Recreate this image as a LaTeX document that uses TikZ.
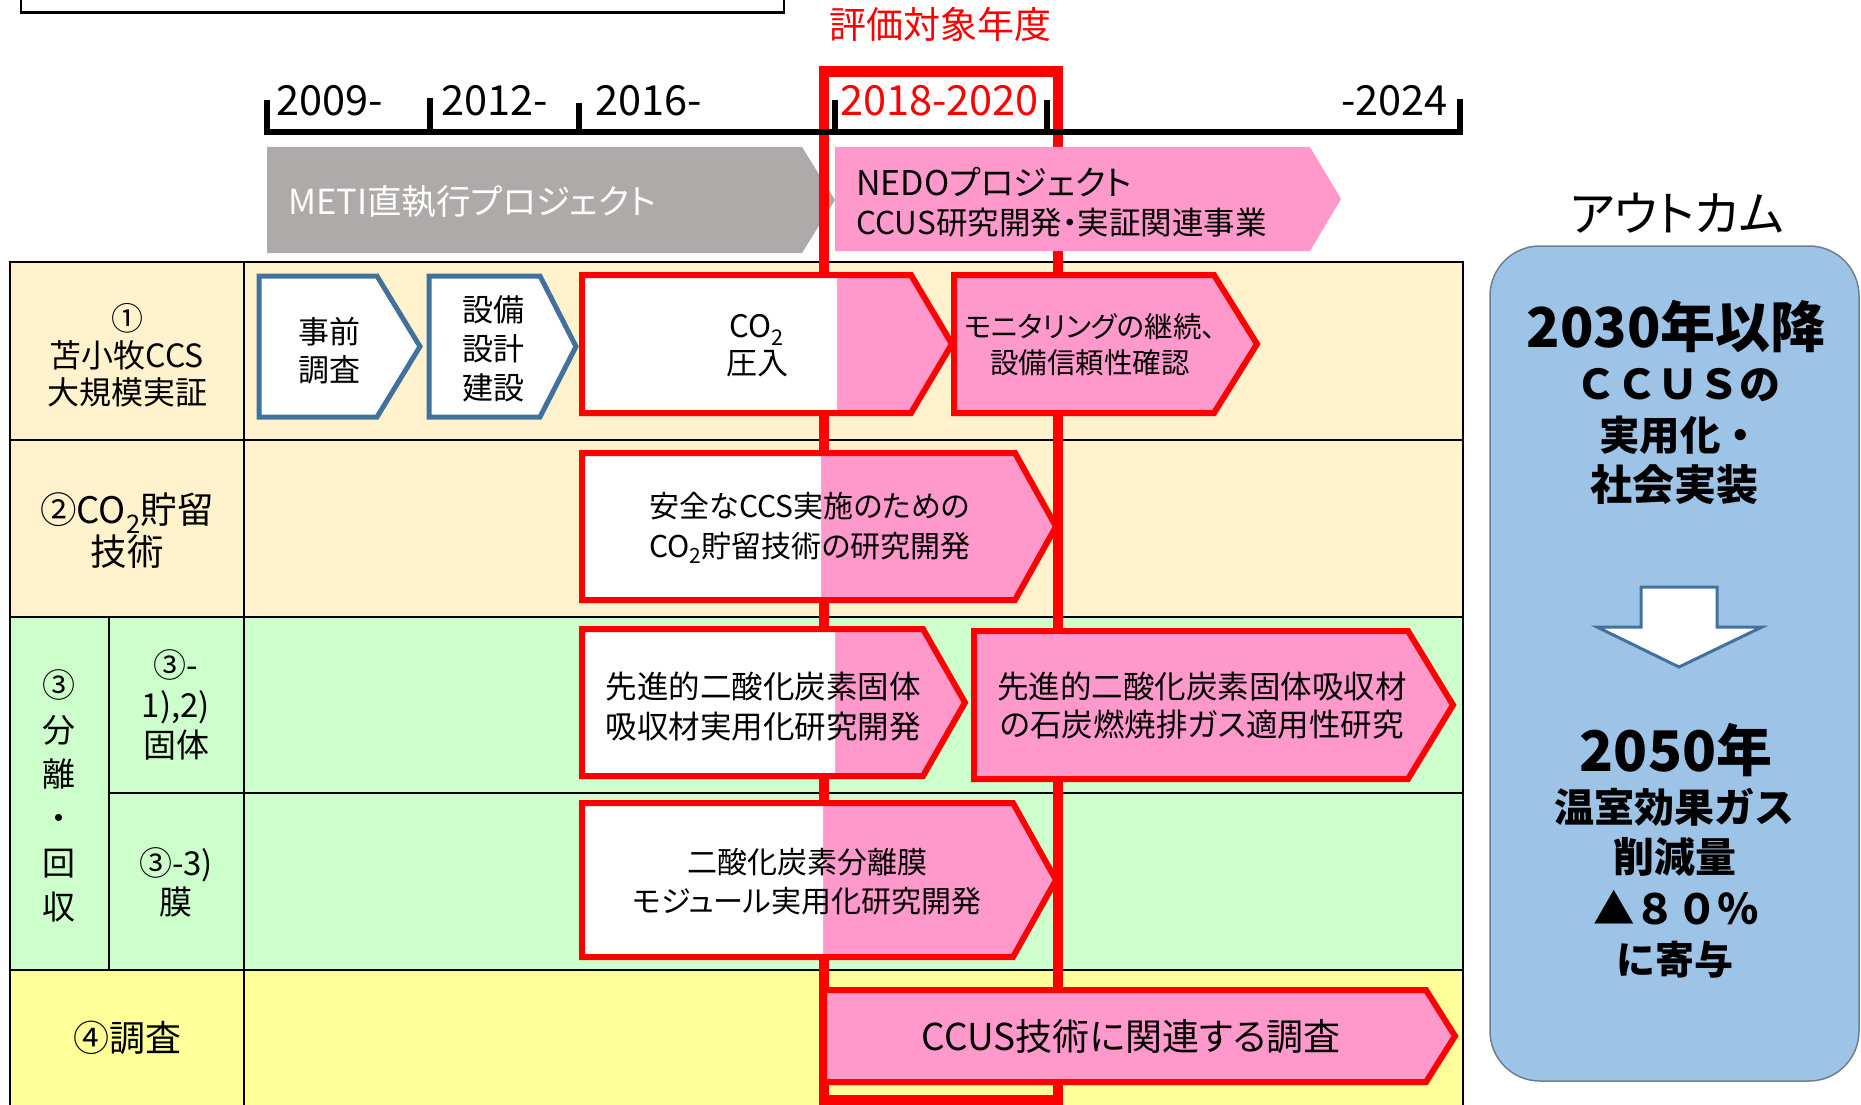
\documentclass[tikz,border=0pt]{standalone}
\usepackage{fontspec}
\setmainfont{Noto Sans CJK JP}[RawFeature=+palt]
\newfontfamily\jpf{Noto Sans CJK JP}
\definecolor{beige}{HTML}{FFF2CC}
\definecolor{greenrow}{HTML}{CCFFCC}
\definecolor{yellowrow}{HTML}{FFFF99}
\definecolor{pinkc}{HTML}{FF99CC}
\definecolor{greyc}{HTML}{AEAAAA}
\definecolor{redc}{HTML}{FF0000}
\definecolor{blueb}{HTML}{41719C}
\definecolor{panel}{HTML}{9DC3E6}
\definecolor{panelb}{HTML}{6F7F8F}
\newcommand\fs[2]{\fontsize{#1}{#2}\selectfont}
% left, shoulder, tip, top, bottom, white-until
\newcommand\chevbox[6]{%
  \fill[pinkc] (#1,#4) -- (#2,#4) -- (#3,{(#4+#5)/2}) -- (#2,#5) -- (#1,#5) -- cycle;
  \begin{scope}
    \clip ({#1-10},{#4-10}) rectangle (#6,{#5+10});
    \fill[white] (#1,#4) -- (#2,#4) -- (#3,{(#4+#5)/2}) -- (#2,#5) -- (#1,#5) -- cycle;
  \end{scope}
  \draw[redc, line width=6, miter limit=20] (#1,#4) -- (#2,#4) -- (#3,{(#4+#5)/2}) -- (#2,#5) -- (#1,#5) -- cycle;}
\newcommand\bluechev[3]{%
  \draw[blueb, line width=5, fill=white, miter limit=20] (#1,276) -- (#2,276) -- (#3,346.5) -- (#2,417) -- (#1,417) -- cycle;}
\begin{document}
\begin{tikzpicture}[x=1pt,y=-1pt,
  txt/.style={inner sep=0pt, align=center, text=black},
  yr/.style={inner sep=0pt, anchor=base west, font=\fs{41.5}{46}},
  tline/.style={line width=6},
  tick/.style={line width=5.5},
  grid/.style={line width=2.5, black}]
\useasboundingbox (0,0) rectangle (1861,1105);
\fill[white] (0,0) rectangle (1861,1105);

% top-left frame (cut off)
\draw[line width=2.5] (21,-10) rectangle (784,12.5);

% table backgrounds
\fill[beige] (10,262) rectangle (1463,617);
\fill[greenrow] (10,617) rectangle (1463,970);
\fill[yellowrow] (10,970) rectangle (1463,1110);
% table lines
\draw[grid] (10,1110) -- (10,262) -- (1463,262) -- (1463,1110);
\draw[grid] (10,440) -- (1463,440);
\draw[grid] (10,617) -- (1463,617);
\draw[grid] (109,793) -- (1463,793);
\draw[grid] (10,970) -- (1463,970);
\draw[grid] (244,262) -- (244,1110);
\draw[grid] (109,617) -- (109,970);

% grey METI arrow
\fill[greyc] (267,147) -- (802,147) -- (835,200) -- (802,253) -- (267,253) -- cycle;
\node[txt, anchor=west, text=white, font=\fs{34.5}{40}] (meti) at (288,202) {METI直執行プロジェクト};

% evaluation frame
\draw[redc, line width=10.5] (824,71.5) rectangle (1058,1100);
\node[txt, text=redc, font=\jpf\fs{37}{42}] (eval) at (940,24) {評価対象年度};

% timeline
\draw[tline, miter limit=20] (267,100) -- (267,132) -- (1460,132) -- (1460,99);
\draw[tick] (430,98) -- (430,132);
\draw[tick] (579,103) -- (579,132);
\draw[tick] (835,100) -- (835,132);
\draw[tick] (1047,100) -- (1047,132);
\node[yr] (y2009) at (276,116) {2009-};
\node[yr] (y2012) at (441,116) {2012-};
\node[yr] (y2016) at (595,116) {2016-};
\node[yr, text=redc] (y2018) at (840,116) {2018-2020};
\node[yr, anchor=base east] (y2024) at (1448,116) {-2024};

% NEDO arrow
\fill[pinkc] (835,147) -- (1310,147) -- (1341,199) -- (1310,251) -- (835,251) -- cycle;
\node[txt, anchor=west, font=\fs{34}{40}] (nedo1) at (856,182) {NEDOプロジェクト};
\node[txt, anchor=west, font=\fs{31.5}{36}] (nedo2) at (856,223) {CCUS研究開発・実証関連事業};

% row labels
\node[txt, font=\fs{32}{37}] (l1) at (127,355) {①\\苫小牧CCS\\大規模実証};
\node[txt, font=\fs{36.5}{42}] (l2) at (127,531) {②CO\textsubscript{2}貯留\\技術};
\node[txt, font=\fs{33}{44.4}] (l3) at (59,796) {③\\分\\離\\・\\回\\収};
\node[txt, font=\fs{33}{40}] (l3a) at (176,705) {③-\\1),2)\\固体};
\node[txt, font=\fs{33}{39}] (l3b) at (176,882) {③-3)\\膜};
\node[txt, font=\fs{36}{42}] (l4) at (127,1038) {④調査};

% row 1 boxes
\bluechev{259}{377}{420}
\bluechev{429}{540}{576}
\node[txt, font=\fs{31}{38}] (b1) at (329,351) {事前\\調査};
\node[txt, font=\fs{31}{39}] (b2) at (493,349) {設備\\設計\\建設};
\chevbox{582}{911}{952}{275}{413}{837}
\node[txt, font=\fs{31}{37}] (b3) at (757,346) {CO\textsubscript{2}\\圧入};
\chevbox{954}{1214}{1257}{275}{413}{954}
\node[txt, font=\fs{28.5}{36}] (b4) at (1090,345) {モニタリングの継続、\\設備信頼性確認};

% row 2
\chevbox{582}{1015}{1056}{453}{600}{821}
\node[txt, font=\fs{30}{40}] (b5) at (810,528) {安全なCCS実施のための\\CO\textsubscript{2}貯留技術の研究開発};

% row 3a
\chevbox{582}{923}{965}{629}{776}{835}
\node[txt, font=\fs{31.5}{40}] (b6) at (763,707) {先進的二酸化炭素固体\\吸収材実用化研究開発};
\chevbox{974}{1408}{1453}{631}{779}{974}
\node[txt, font=\fs{31.5}{38}] (b7) at (1202,706) {先進的二酸化炭素固体吸収材\\の石炭燃焼排ガス適用性研究};

% row 3b
\chevbox{582}{1013}{1056}{803}{957}{823}
\node[txt, font=\fs{30}{39}] (b8) at (807,882) {二酸化炭素分離膜\\モジュール実用化研究開発};

% row 4
\chevbox{824}{1426}{1455}{990}{1082}{824}
\node[txt, font=\fs{37}{42}] (b9) at (1131,1037) {CCUS技術に関連する調査};

% outcome panel
\node[txt, font=\fs{48}{52}] (outt) at (1677,213) {アウトカム};
\draw[panelb, line width=1.5, fill=panel, rounded corners=50] (1490,246) rectangle (1859,1081);
\begin{scope}[every node/.style={txt, font=\jpf\bfseries}]
\node[font=\jpf\bfseries\fs{55}{60}] (o1) at (1676,327) {2030年以降};
\node[font=\jpf\bfseries\fs{41}{46}] (o2) at (1678,385) {ＣＣＵＳの};
\node[font=\jpf\bfseries\fs{40.5}{46}] (o3) at (1680,435) {実用化・};
\node[font=\jpf\bfseries\fs{42}{48}] (o4) at (1674,485) {社会実装};
\node[font=\jpf\bfseries\fs{56}{60}] (o5) at (1676,750) {2050年};
\node[font=\jpf\bfseries\fs{40}{46}] (o6) at (1674,807) {温室効果ガス};
\node[font=\jpf\bfseries\fs{41}{46}] (o7) at (1675,857) {削減量};
\node[font=\jpf\bfseries\fs{41.5}{46}] (o8) at (1676,908) {▲８０％};
\node[font=\jpf\bfseries\fs{39}{46}] (o9) at (1675,960) {に寄与};
\end{scope}
\draw[blueb, line width=3, fill=white] (1641,587) -- (1717,587) -- (1717,627) -- (1762,627) -- (1679,667) -- (1597,627) -- (1641,627) -- cycle;
\end{tikzpicture}
\end{document}
